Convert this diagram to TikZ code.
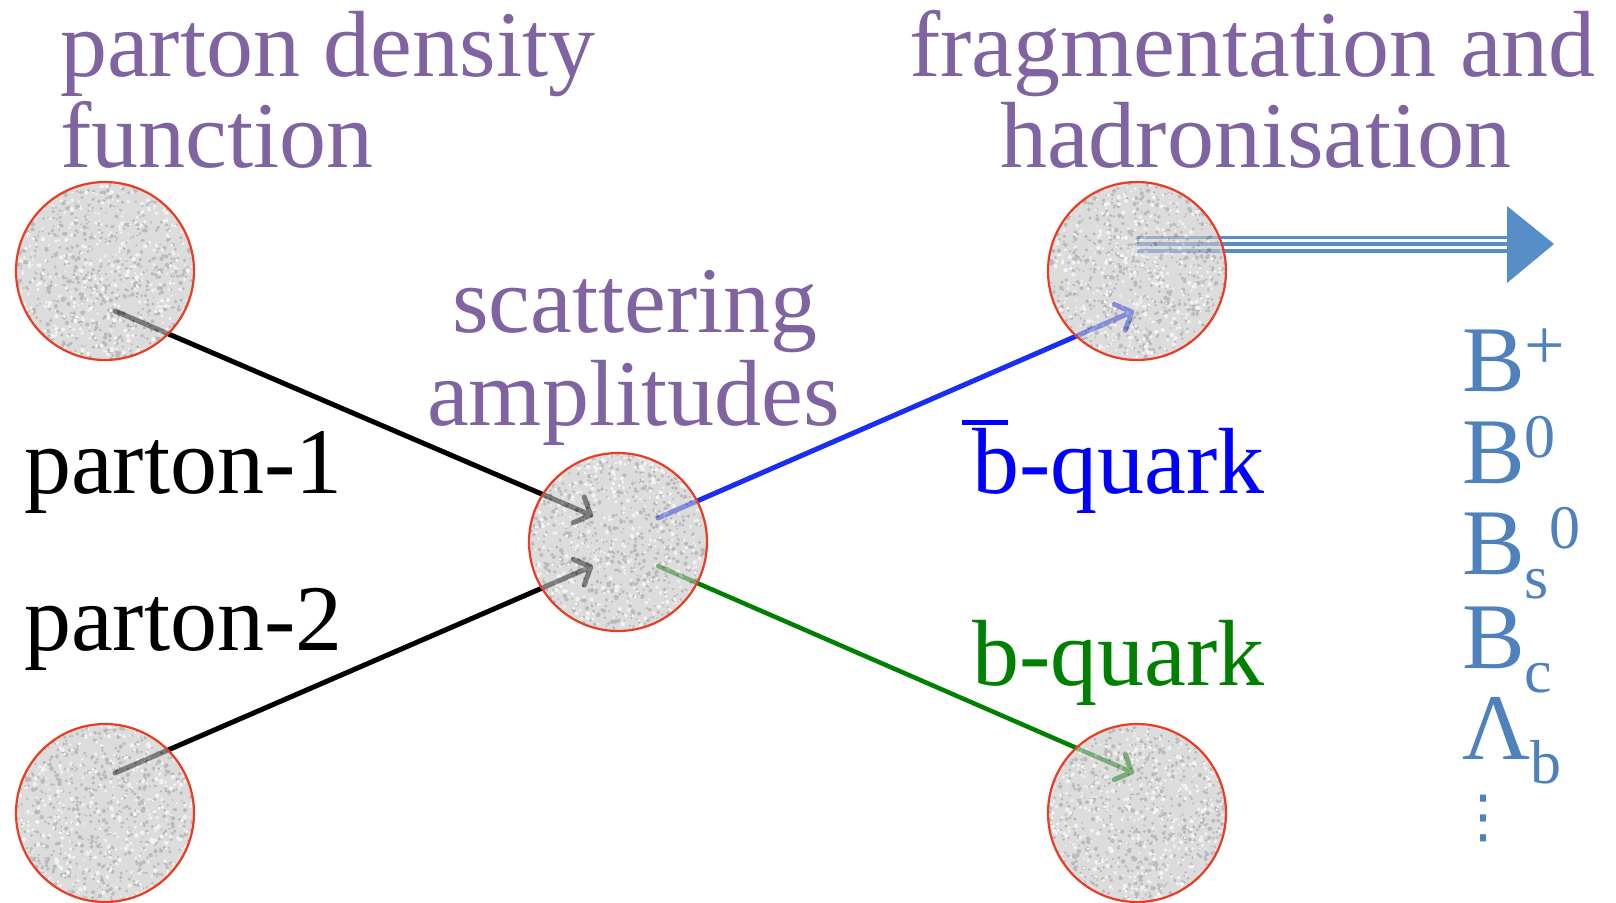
\documentclass[tikz,border=0pt]{standalone}
\usepackage{fontspec}
\setmainfont{Liberation Serif}
\newfontfamily\dejavu{DejaVu Sans}
\usetikzlibrary{arrows.meta,calc}
\definecolor{pdfpurple}{RGB}{128,100,162}
\definecolor{hadblue}{RGB}{79,129,189}
\definecolor{arrblue}{RGB}{88,142,200}
\definecolor{qgreen}{RGB}{0,128,0}
\definecolor{rimred}{RGB}{232,60,35}
\definecolor{qblue}{RGB}{0,0,255}
\definecolor{lineblue}{RGB}{25,45,245}
\colorlet{blobgray}{black!22}
\colorlet{speckdark}{black!44}
\colorlet{specklight}{black!8}
\newcommand\hsup[1]{\raisebox{26pt}{\fontsize{62}{62}\selectfont #1}}
\newcommand\hsub[1]{\raisebox{-24pt}{\fontsize{62}{62}\selectfont #1}}
\newcommand\paintblob[1]{%
  \begin{scope}[transparency group, opacity=0.62]
    \fill[blobgray] (#1.center) circle[radius=89pt];
    \begin{scope}
      \clip (#1.center) circle[radius=89pt];
      \begin{scope}[shift={(#1.center)}]
        \foreach \k in {1,...,800}{\fill[speckdark] (rand*89,rand*89) circle[radius={0.9pt+1.3pt*rnd}];}
        \foreach \k in {1,...,500}{\fill[specklight] (rand*89,rand*89) circle[radius={0.9pt+1.3pt*rnd}];}
      \end{scope}
    \end{scope}
  \end{scope}
  \draw[rim] (#1.center) circle[radius=89pt];
}
\tikzset{
  blob/.style={circle, minimum size=178pt, inner sep=0pt, draw=none},
  rim/.style={draw=rimred, line width=2.2pt},
  lbl/.style={font=\fontsize{94}{100}\selectfont, inner sep=0pt, anchor=base west},
  conn/.style={line width=5pt, line cap=round,
    -{Straight Barb[length=13pt,width=28pt,line width=5pt,round]}},
  triple/.style={arrblue, line width=17pt},
}
\begin{document}
\begin{tikzpicture}[x=1pt,y=-1pt]
\pgfmathsetseed{4242}
\useasboundingbox (0,0) rectangle (1616,902);

% blobs (positions)
\node[blob] (pdfa) at (105,271) {};
\node[blob] (pdfb) at (105,813) {};
\node[blob] (hard) at (618,542) {};
\node[blob] (fraga) at (1137,271) {};
\node[blob] (fragb) at (1137,813) {};

% connector end points
\coordinate (a1s) at ($(pdfa.center)+(10,40)$);
\coordinate (a1e) at ($(hard.center)+(-25,-26)$);
\coordinate (a2s) at ($(pdfb.center)+(10,-40)$);
\coordinate (a2e) at ($(hard.center)+(-25,24)$);
\coordinate (bs) at ($(hard.center)+(40,-24)$);
\coordinate (be) at ($(fraga.center)+(-3,40)$);
\coordinate (gs) at ($(hard.center)+(40,24)$);
\coordinate (ge) at ($(fragb.center)+(-3,-40)$);
\coordinate (ts) at ($(fraga.center)+(0,-27)$);
\coordinate (te) at (1507,244);

% connectors
\draw[conn, black] (a1s) -- (a1e);
\draw[conn, black] (a2s) -- (a2e);
\draw[conn, lineblue] (bs) -- (be);
\draw[conn, qgreen, line width=4.5pt] (gs) -- (ge);
\draw[triple] (ts) -- (te);
\draw[white, line width=10pt] (ts) -- (te);
\draw[arrblue, line width=4pt] (ts) -- (te);
\fill[arrblue] ($(te)+(0,-38)$) -- ($(te)+(47,0)$) -- ($(te)+(0,39)$) -- cycle;

% blob overlays
\paintblob{pdfa}
\paintblob{pdfb}
\paintblob{hard}
\paintblob{fraga}
\paintblob{fragb}

% labels
\node[lbl, text=pdfpurple] (t1) at (60,76) {parton density};
\node[lbl, text=pdfpurple] (t2) at (60,167) {function};
\node[lbl, text=pdfpurple] (t3) at (909,76) {fragmentation and};
\node[lbl, text=pdfpurple] (t4) at (1000,167) {hadronisation};
\node[lbl, text=pdfpurple] (t5) at (452,332) {scattering};
\node[lbl, text=pdfpurple] (t6) at (427,425) {amplitudes};
\node[lbl, text=black] (t7) at (24,493) {parton-1};
\node[lbl, text=black] (t8) at (24,650) {parton-2};
\node[lbl, text=qblue] (t9) at (972,493) {\rlap{\kern-10pt\raisebox{68pt}{\rule{46pt}{5pt}}}b-quark};
\node[lbl, text=qgreen] (t10) at (972,685) {b-quark};

% hadrons
\node[lbl, text=hadblue] (h1) at (1462,391) {B\raisebox{22pt}{\fontsize{72}{72}\selectfont +}};
\node[lbl, text=hadblue] (h2) at (1462,483) {B\hsup{0}};
\node[lbl, text=hadblue] (h3) at (1462,574) {B\hsub{s}\hsup{0}};
\node[lbl, text=hadblue] (h4) at (1462,668) {B\hsub{c}};
\node[lbl, text=hadblue] (h5) at (1462,759) {Λ\hsub{b}};
\node[inner sep=0pt, text=hadblue, font=\dejavu\fontsize{58}{58}\selectfont] (h6) at (1483,818) {⋮};
\end{tikzpicture}
\end{document}
